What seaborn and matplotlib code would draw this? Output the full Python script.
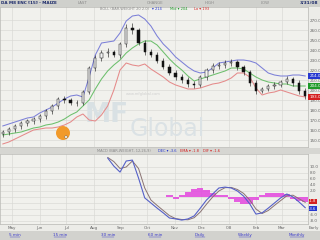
import numpy as np
import pandas as pd
import matplotlib
matplotlib.use("Agg")
import matplotlib.pyplot as plt
import matplotlib.transforms as mtransforms
from matplotlib.patches import Rectangle, Ellipse
from matplotlib.lines import Line2D
import seaborn as sns

# ---------------- data (weekly samples) ----------------
weeks = pd.date_range("2007-04-20", periods=50, freq="7D")

opens = [156, 158, 161, 164, 167, 169, 171, 174, 179, 184, 191, 190, 187, 187, 198, 222, 232, 237, 238, 235,
         246, 262, 260, 247, 238, 235, 229, 223, 217, 213, 210, 206, 205, 213, 220, 224, 225, 227, 228, 223,
         218, 207, 199, 201, 204, 205, 208, 211, 207, 199]
closes = [158, 161, 164, 167, 169, 171, 174, 179, 184, 191, 190, 187, 187, 198, 222, 232, 237, 238, 235, 246,
          262, 260, 247, 238, 235, 229, 223, 217, 213, 210, 206, 205, 213, 220, 224, 225, 227, 228, 223, 218,
          207, 199, 201, 204, 205, 208, 211, 207, 199, 194]
highs = [160, 163, 166, 169, 171, 173, 176, 181, 186, 193, 194, 192, 190, 200, 224, 235, 240, 242, 240, 248,
         266, 267, 262, 250, 241, 238, 232, 226, 220, 216, 213, 209, 215, 222, 227, 228, 230, 231, 230, 225,
         220, 210, 203, 206, 208, 210, 214, 213, 210, 202]
lows = [153, 155, 158, 161, 164, 166, 168, 171, 176, 181, 187, 185, 184, 185, 196, 219, 229, 233, 233, 232,
        243, 256, 245, 235, 233, 227, 221, 215, 210, 207, 203, 202, 203, 210, 217, 221, 222, 224, 220, 215,
        204, 196, 197, 199, 201, 203, 206, 204, 196, 191]

upper_band = [164, 166, 168, 170, 172, 173, 177, 180, 183, 187, 191, 194, 195, 193, 213, 235, 247, 248, 249, 257,
              269, 274, 275, 271, 264, 254, 246, 240, 233, 228, 223, 219, 217, 218, 222, 227, 228, 229, 230, 230,
              229, 227, 222, 217, 215, 214, 214, 215, 215, 214]
mid_band = [155, 156, 157, 158, 160, 162, 163, 165, 166, 168, 171, 175, 178, 184, 190, 201, 211, 219, 225, 230,
            237, 242, 246, 249, 249, 245, 238, 231, 225, 220, 214, 209, 211, 213, 215, 217, 219, 222, 222, 221,
            217, 213, 210, 208, 207, 206, 206, 204, 204, 204]
lower_band = [146, 148, 151, 154, 157, 160, 161, 162, 162, 163, 165, 168, 173, 176, 170, 169, 175, 184, 200, 220,
              227, 225, 224, 226, 221, 217, 213, 208, 205, 203, 201, 201, 202, 204, 206, 207, 209, 212, 217, 217,
              213, 202, 195, 197, 198, 200, 198, 196, 194, 193]

nan = np.nan
macd_line = [nan] * 17 + [13.0, 10.3, 8.3, 12.0, 12.3, 6.3, -0.3, -2.0, -3.7, -5.3, -7.0, -7.3, -7.7, -7.3,
                          -6.3, -3.7, -1.0, 1.0, 3.0, 3.3, 3.0, 2.0, 0.3, -2.3, -5.7, -5.3, -3.7, -2.0, -0.3,
                          1.0, 0.0, -1.7, -3.6]
signal_line = [nan] * 17 + [13.2, 11.8, 9.5, 10.0, 12.0, 9.5, 3.0, -1.0, -2.8, -4.5, -6.2, -7.2, -7.5, -7.6,
                            -6.9, -5.0, -2.4, 0.0, 2.0, 3.1, 3.2, 2.5, 1.2, -1.0, -4.0, -5.5, -4.5, -2.8, -1.2,
                            0.4, 0.6, -0.6, -1.8]
histogram = [nan] * 27 + [0.7, -0.5, 0.8, 1.8, 2.8, 3.0, 2.2, 1.2, 0.8, 0.6, -0.6, -1.6, -2.4, -2.2, -1.0,
                          0.8, 1.2, 1.4, 1.5, 1.0, -0.8, -1.4, -1.6]

month_labels = ["May", "Jun", "Jul", "Aug", "Sep", "Oct", "Nov", "Dec", "'08", "Feb", "Mar"]
month_starts = pd.date_range("2007-05-01", periods=11, freq="MS")
price_ticks = list(range(150, 271, 10))
macd_ticks = list(range(-8, 11, 2))
macd_hidden = [0, -2, -4]          # labels covered by the value boxes
link_labels = ["5 min", "15 min", "30 min", "60 min", "Daily", "Weekly", "Monthly"]

df = pd.DataFrame({"date": weeks, "open": opens, "close": closes, "high": highs, "low": lows,
                   "upper": upper_band, "mid": mid_band, "lower": lower_band,
                   "macd": macd_line, "signal": signal_line, "hist": histogram})

# ---------------- style ----------------
sns.set_style("whitegrid")
plt.rcParams["font.family"] = ["DejaVu Sans"]

W, H = 320, 240
fig = plt.figure(figsize=(3.2, 2.4), dpi=100)
fig.patch.set_facecolor("#ecece8")

def fx(px):
    return px / W

def fy(py):
    return 1 - py / H

# header strips / bottom bar
fig.patches.append(Rectangle((0, fy(6.5)), 1, 6.5 / H, transform=fig.transFigure, fc="#cfd0cc", ec="none", zorder=0))
fig.patches.append(Rectangle((0, fy(154)), 1, 6.5 / H, transform=fig.transFigure, fc="#d6d6d2", ec="none", zorder=0))
fig.patches.append(Rectangle((0, 0), 1, 9.5 / H, transform=fig.transFigure, fc="#d2d2ce", ec="none", zorder=0))

ax1 = fig.add_axes([0, fy(147), fx(308), (147 - 6.5) / H])
ax2 = fig.add_axes([0, fy(224), fx(308), (224 - 154) / H])

xmin, xmax = pd.Timestamp("2007-04-17"), pd.Timestamp("2008-03-31")
panel_bg = "#f1f1ed"
grid_c = "#d9d9d4"

for ax in (ax1, ax2):
    ax.set_facecolor(panel_bg)
    ax.set_xlim(xmin, xmax)
    ax.set_xticks(month_starts)
    ax.grid(True, color=grid_c, lw=0.45)
    ax.yaxis.tick_right()
    ax.tick_params(axis="both", length=0, labelsize=3.0, colors="#666666", pad=1)
    for s in ax.spines.values():
        s.set_color("#b8b8b4")
        s.set_linewidth(0.5)

# watermark (behind the data)
ax1.text(0.275, 0.23, "MF", transform=ax1.transAxes, fontsize=19, fontweight="bold", color="#d9e1e4",
         ha="left", va="center", zorder=1)
ax1.text(0.42, 0.13, "Global", transform=ax1.transAxes, fontsize=17, color="#dbe2e5",
         ha="left", va="center", zorder=1)
ax1.text(0.41, 0.38, "www.mfglobal.com", transform=ax1.transAxes, fontsize=2.6, color="#cfcfcf",
         ha="left", va="center", zorder=1)

# ---------------- upper panel: Bollinger + candles ----------------
sns.lineplot(data=df, x="date", y="upper", ax=ax1, color="#7c80d8", lw=0.75)
sns.lineplot(data=df, x="date", y="mid", ax=ax1, color="#6cbf6c", lw=0.75)
sns.lineplot(data=df, x="date", y="lower", ax=ax1, color="#e58a8a", lw=0.75)

o = np.array(opens, float)
c = np.array(closes, float)
ax1.vlines(df["date"], df["low"], df["high"], color="#111111", lw=0.4, zorder=3)
up = c >= o
ax1.bar(df["date"][up], (c - o)[up] + 0.6, bottom=o[up] - 0.3, width=2.6, color="#f4f4f4",
        edgecolor="#111111", lw=0.35, zorder=4)
ax1.bar(df["date"][~up], (o - c)[~up] + 0.6, bottom=c[~up] - 0.3, width=2.6, color="#111111",
        edgecolor="#111111", lw=0.35, zorder=4)

ax1.set_ylim(290 - 147, 290 - 6.5)
ax1.set_yticks(price_ticks)
ax1.set_yticklabels([f"{v:.1f}" for v in price_ticks])
ax1.set_xticklabels([])
ax1.set_xlabel("")
ax1.set_ylabel("")

tr1 = mtransforms.blended_transform_factory(ax1.transAxes, ax1.transData)
for val, col in [(upper_band[-1], "#2638d0"), (mid_band[-1], "#1f9a2a"), (lower_band[-1], "#d42020")]:
    ax1.text(1.004, val, f"{val:.1f}", transform=tr1, fontsize=3.0, color="white", va="center", ha="left",
             bbox=dict(boxstyle="square,pad=0.2", fc=col, ec="none"), clip_on=False, zorder=10)

# ---------------- lower panel: MACD ----------------
ax2.bar(df["date"], df["hist"], width=7, color="#e346de", edgecolor="none", alpha=0.85, zorder=2)
sns.lineplot(data=df, x="date", y="signal", ax=ax2, color="#8a7373", lw=0.7)
sns.lineplot(data=df, x="date", y="macd", ax=ax2, color="#5560c8", lw=0.8)
ax2.set_ylim((197 - 224) / 3, (197 - 154) / 3)
ax2.set_yticks(macd_ticks)
ax2.set_yticklabels(["" if v in macd_hidden else f"{v:.1f}" for v in macd_ticks])
ax2.set_xticklabels(month_labels)
ax2.tick_params(axis="x", pad=1.2, labelsize=3.0, colors="#666666")
ax2.set_xlabel("")
ax2.set_ylabel("")

tr2 = mtransforms.blended_transform_factory(ax2.transAxes, ax2.transData)
for val, col, dv in [(signal_line[-1], "#d42020", 0.35), (macd_line[-1], "#2638d0", -0.35)]:
    ax2.text(1.004, val + dv, f"{val:.1f}", transform=tr2, fontsize=2.7, color="white", va="center", ha="left",
             bbox=dict(boxstyle="square,pad=0.1", fc=col, ec="none"), clip_on=False, zorder=10)

# ---------------- header texts ----------------
fig.text(fx(1), fy(3.2), "DA M8 ENC [15] - MAIZE", fontsize=3.0, color="#1c2a6a", fontweight="bold",
         va="center", ha="left")
for px, t in [(82, "LAST"), (155, "CHANGE"), (210, "HIGH"), (265, "LOW")]:
    fig.text(fx(px), fy(3.2), t, fontsize=2.8, color="#8a8a8a", va="center", ha="center")
fig.text(fx(318), fy(3.2), "3/31/08", fontsize=3.2, color="#1c2a6a", fontweight="bold", va="center", ha="right")

fig.text(fx(100), fy(9), "BOLL (BAR-WEIGHT 20 2.0)", fontsize=2.6, color="#8a8a8a", va="center", ha="left")
fig.text(fx(152), fy(9), f"\u25be {upper_band[-1]}", fontsize=2.6, color="#2638d0", va="center", ha="left")
fig.text(fx(170), fy(9), f"Mid \u25be {mid_band[-1]}", fontsize=2.6, color="#1f9a2a", va="center", ha="left")
fig.text(fx(194), fy(9), f"Lo \u25be {lower_band[-1]}", fontsize=2.6, color="#d42020", va="center", ha="left")

fig.text(fx(97), fy(151.5), "MACD (BAR-WEIGHT, 12,26,9)", fontsize=2.6, color="#8a8a8a", va="center", ha="left")
fig.text(fx(158), fy(151.5), f"DEC \u25be {macd_line[-1]}", fontsize=2.6, color="#2638d0", va="center", ha="left")
fig.text(fx(180), fy(151.5), f"EMA \u25be {signal_line[-1]}", fontsize=2.6, color="#d42020", va="center", ha="left")
fig.text(fx(203), fy(151.5), f"DIF \u25be {histogram[-1]}", fontsize=2.6, color="#d42020", va="center", ha="left")

fig.text(fx(314), fy(227.5), "Early", fontsize=3.0, color="#666666", va="center", ha="center")

# bottom links
for px, t in zip([15, 60, 108, 155, 200, 245, 297], link_labels):
    fig.text(fx(px), fy(235), t, fontsize=3.0, color="#3a3acc", va="center", ha="center")
    half = len(t) * 1.0
    fig.lines.append(Line2D([fx(px - half), fx(px + half)], [fy(237.3), fy(237.3)], transform=fig.transFigure,
                            color="#3a3acc", lw=0.3))

# orange cursor highlight
fig.patches.append(Ellipse((fx(63), fy(133)), 14 / W, 14 / H, transform=fig.transFigure,
                           fc="#f2951f", ec="none", alpha=0.95, zorder=20))
fig.patches.append(Ellipse((fx(66), fy(137)), 2.5 / W, 2.5 / H, transform=fig.transFigure,
                           fc="#ffffff", ec="#555555", lw=0.3, zorder=21))

fig.savefig("out.png", dpi=100, facecolor=fig.get_facecolor())
